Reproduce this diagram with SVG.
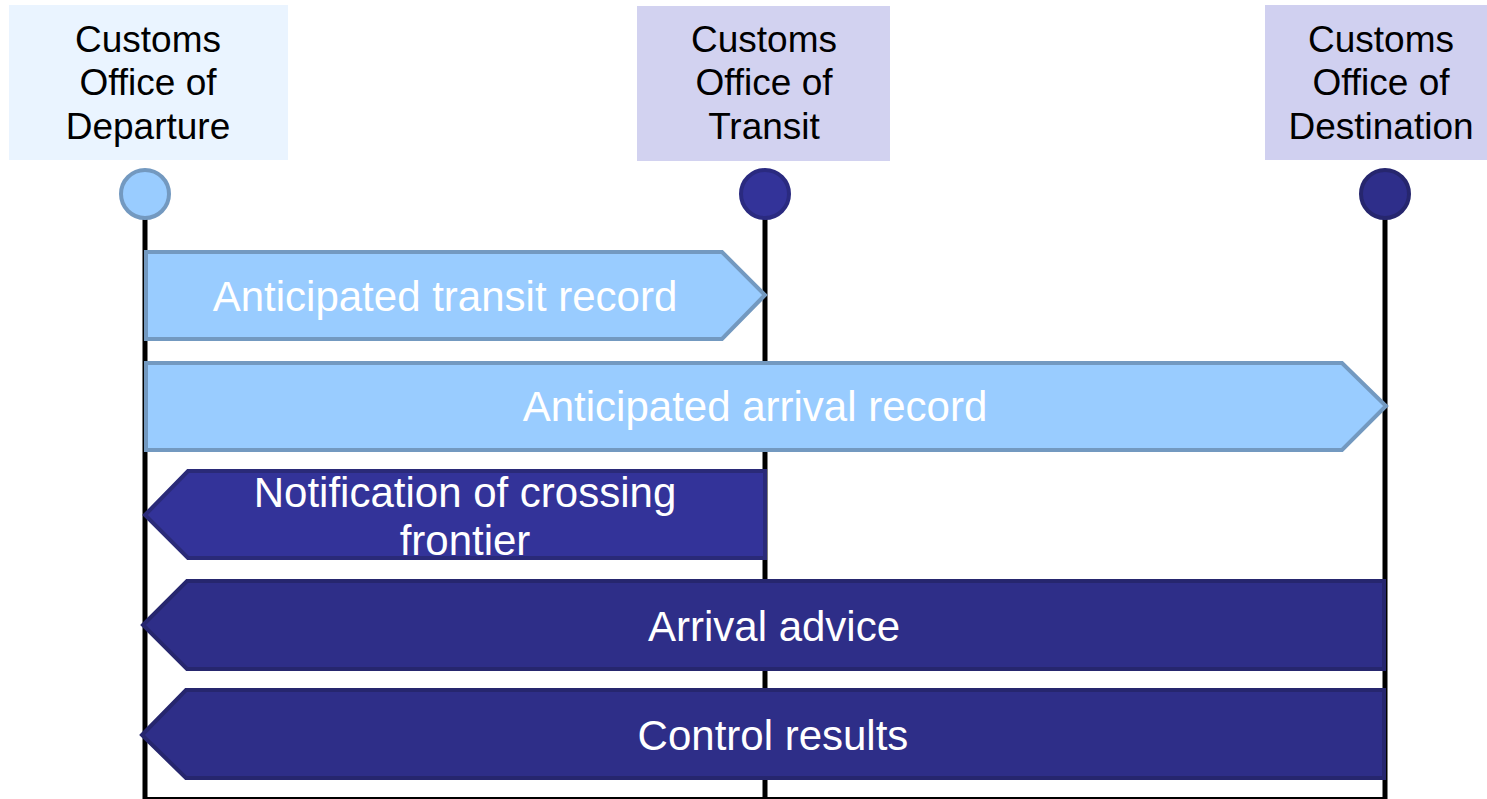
<svg xmlns="http://www.w3.org/2000/svg" width="1487" height="799" viewBox="0 0 1487 799">
<style>
.hdr{font-family:"Liberation Sans",Arial,sans-serif;font-size:37px;fill:#000;text-anchor:middle}
.lbl{font-family:"Liberation Sans",Arial,sans-serif;font-size:42px;fill:#fff;text-anchor:middle}
.life{stroke:#000;stroke-width:5;fill:none}
.light{fill:#99CCFF;stroke:#7399C0;stroke-width:4;stroke-linejoin:miter}
.dark{fill:#2E2E88;stroke:#26266E;stroke-width:4;stroke-linejoin:miter}
.dark2{fill:#333399;stroke:#2A2A78;stroke-width:4;stroke-linejoin:miter}
</style>
<rect width="1487" height="799" fill="#fff"/>
<g id="connectors">
<line class="life" x1="145" y1="218" x2="145" y2="799"/>
<line class="life" x1="765" y1="218" x2="765" y2="799"/>
<line class="life" x1="1385" y1="218" x2="1385" y2="799"/>
<line x1="145" y1="798" x2="1385" y2="798" stroke="#000" stroke-width="2"/>
</g>
<g id="departure">
<rect x="9" y="5" width="279" height="155" fill="#EAF4FF"/>
<text class="hdr" x="148" y="52">Customs</text>
<text class="hdr" x="148" y="95">Office of</text>
<text class="hdr" x="148" y="139">Departure</text>
<circle cx="145" cy="194" r="24" fill="#99CCFF" stroke="#7399C0" stroke-width="4"/>
</g>
<g id="transit">
<rect x="637" y="6" width="253" height="155" fill="#D2D2F0"/>
<text class="hdr" x="764" y="52">Customs</text>
<text class="hdr" x="764" y="95">Office of</text>
<text class="hdr" x="764" y="139">Transit</text>
<circle cx="765" cy="194" r="24" fill="#333399" stroke="#2A2A80" stroke-width="4"/>
</g>
<g id="destination">
<rect x="1265" y="5" width="222" height="155" fill="#D0D0F0"/>
<text class="hdr" x="1381" y="52">Customs</text>
<text class="hdr" x="1381" y="95">Office of</text>
<text class="hdr" x="1381" y="139">Destination</text>
<circle cx="1385" cy="194" r="24" fill="#2E2E8A" stroke="#26266E" stroke-width="4"/>
</g>
<g id="anticipated-transit">
<polygon class="light" points="146,252 722,252 765,295 722,339 146,339"/>
<text class="lbl" x="445" y="311">Anticipated transit record</text>
</g>
<g id="anticipated-arrival">
<polygon class="light" points="146,363 1342,363 1386,406 1342,450 146,450"/>
<text class="lbl" x="755" y="421">Anticipated arrival record</text>
</g>
<g id="notification">
<polygon class="dark2" points="145,515 188,471 765,471 765,558 188,558"/>
<text class="lbl" x="465" y="507">Notification of crossing</text>
<text class="lbl" x="465" y="555">frontier</text>
</g>
<g id="arrival-advice">
<polygon class="dark" points="143,625 187,581 1384,581 1384,669 187,669"/>
<text class="lbl" x="774" y="641">Arrival advice</text>
</g>
<g id="control-results">
<polygon class="dark" points="142,735 186,690 1384,690 1384,778 186,778"/>
<text class="lbl" x="773" y="750">Control results</text>
</g>
</svg>
